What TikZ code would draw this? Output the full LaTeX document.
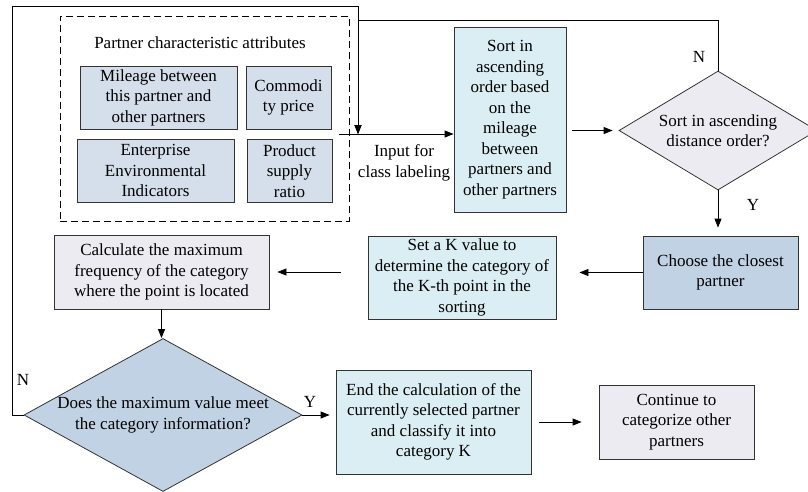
\documentclass[tikz,border=0pt]{standalone}
\usepackage{fontspec}
\setmainfont{Liberation Serif}
\usetikzlibrary{shapes.geometric,arrows.meta,positioning}
\definecolor{cyanbox}{HTML}{DAEEF3}
\definecolor{lilac}{HTML}{EDEBF2}
\definecolor{steel}{HTML}{C2D2E5}
\definecolor{attrblue}{HTML}{D5DFEB}

\begin{document}
\begin{tikzpicture}[x=1pt,y=-1pt,
  font=\fontsize{17}{20.5}\selectfont,
  box/.style={draw=black!80,line width=0.8pt,align=center,inner sep=1pt},
  attr/.style={box,fill=attrblue,minimum height=63pt},
  decision/.style={diamond,draw=black!80,line width=0.8pt,align=center,
                   inner xsep=-20pt,inner ysep=-10pt,aspect=1.8},
  arr/.style={-{Triangle[length=9pt,width=7pt]},line width=0.8pt},
  lbl/.style={inner sep=1pt,align=center}
]
\useasboundingbox (0,0) rectangle (808,491);
% Attribute group (dashed frame first, boxes on top)
\node[draw,dash pattern=on 7pt off 4pt,line width=0.8pt,
      minimum width=289pt,minimum height=205pt] (group) at (204.5,118.5) {};
\node (title) at (200,43) {Partner characteristic attributes};
\node[attr,minimum width=157pt] (mileage) at (158.5,97.5) {Mileage between\\this partner and\\other partners};
\node[attr,minimum width=85pt]  (price)   at (288.5,97.5) {Commodi\\ty price};
\node[attr,minimum width=157pt] (envir)   at (155.5,170.5) {Enterprise\\Environmental\\Indicators};
\node[attr,minimum width=85pt]  (supply)  at (289.5,171) {Product\\supply\\ratio};

% Main flow
\node[box,fill=cyanbox,minimum width=112pt,minimum height=185pt] (sort) at (510,119.5)
  {Sort in\\ascending\\order based\\on the\\mileage\\between\\partners and\\other partners};
\node[decision,fill=lilac,minimum width=198pt,minimum height=119pt] (dec1) at (718,130.5)
  {Sort in ascending\\distance order?};
\node[box,fill=steel,minimum width=155pt,minimum height=73pt] (closest) at (720.5,272.5)
  {Choose the closest\\partner};
\node[box,fill=cyanbox,minimum width=188pt,minimum height=83pt] (setk) at (462,277.5)
  {Set a K value to\\determine the category of\\the K-th point in the\\sorting};
\node[box,fill=lilac,minimum width=215pt,minimum height=74pt] (calc) at (161.5,272)
  {Calculate the maximum\\frequency of the category\\where the point is located};
\node[decision,fill=steel,minimum width=278pt,minimum height=153pt] (dec2) at (163,415)
  {Does the maximum value meet\\the category information?};
\node[box,fill=cyanbox,minimum width=195pt,minimum height=104pt] (finish) at (433.5,422)
  {End the calculation of the\\currently selected partner\\and classify it into\\category K};
\node[box,fill=lilac,minimum width=155pt,minimum height=74pt] (other) at (676.5,422)
  {Continue to\\categorize other\\partners};

% Input line and loop-back points
\coordinate (inp)   at (339,134);
\coordinate (merge) at (358,134);
\coordinate (topN)  at (358,20);
\coordinate (farL)  at (12,6);
\draw[arr] (inp) -- (inp -| sort.west);
\node[lbl] (inlbl) at (404,163) {Input for\\class labeling};

% Forward arrows (with gaps as in the figure)
\draw[arr,shorten <=6pt,shorten >=6pt] (dec1.west -| sort.east) -- (dec1.west);
\draw[arr,shorten >=8pt] (dec1.south) -- (dec1.south |- closest.north);
\draw[arr,shorten >=23pt] (closest.west) -- (closest.west -| setk.east);
\draw[arr,shorten <=27pt,shorten >=8pt] (calc.east -| setk.west) -- (calc.east);
\draw[arr] (calc.south) -- (calc.south |- dec2.north);
\draw[arr,shorten >=6pt] (dec2.east) -- (dec2.east -| finish.west);
\draw[arr,shorten <=8pt,shorten >=17pt] (finish) -- (other);

% Loops back to the input
\draw[arr] (dec1.north) |- (topN) -- (merge);
\draw[arr] (dec2.west) -| (farL) -| (merge);

% Branch labels
\node[lbl] (n1) at (699,57) {N};
\node[lbl] (y1) at (753,205) {Y};
\node[lbl] (n2) at (23,380) {N};
\node[lbl] (y2) at (310,402) {Y};
\end{tikzpicture}
\end{document}
